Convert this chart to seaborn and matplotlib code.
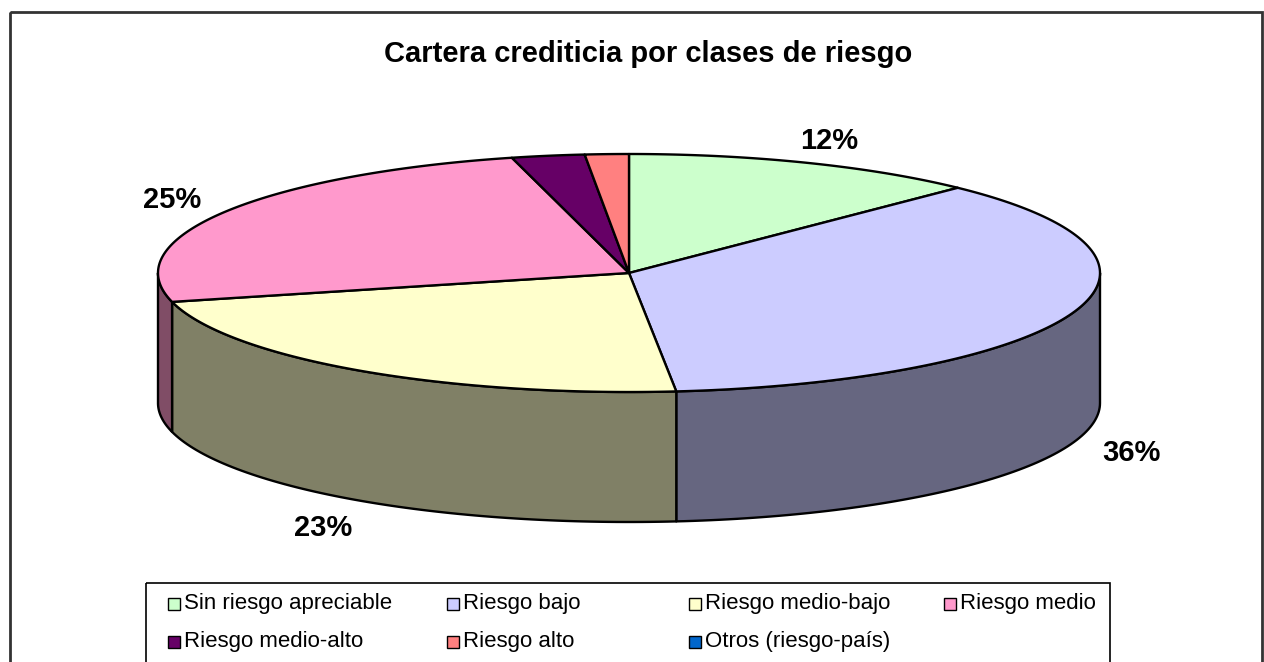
import numpy as np
import matplotlib
matplotlib.use("Agg")
import matplotlib.pyplot as plt
from matplotlib.patches import Polygon, Rectangle
import seaborn as sns

# ── data ────────────────────────────────────────────────────────────────────
categories = ["Sin riesgo apreciable", "Riesgo bajo", "Riesgo medio-bajo",
              "Riesgo medio", "Riesgo medio-alto", "Riesgo alto",
              "Otros (riesgo-país)"]
shares = [12.3, 36.1, 22.7, 24.9, 2.5, 1.5, 0.0]
colors = ["#CCFFCC", "#CCCCFF", "#FFFFCC", "#FF99CC", "#660066", "#FF8080", "#0066CC"]
title = "Cartera crediticia por clases de riesgo"

sns.set_style("white")
plt.rcParams["font.family"] = ["Liberation Sans", "DejaVu Sans"]
plt.rcParams["text.color"] = "black"

W, H = 1264, 662
fig = plt.figure(figsize=(W / 100, H / 100), dpi=100)
ax = fig.add_axes([0, 0, 1, 1])
ax.set_xlim(0, W)
ax.set_ylim(H, 0)
ax.axis("off")

# chart frame + legend frame
ax.add_patch(Rectangle((10, 12), 1252, 660, fill=False, ec="#333333", lw=2.0, zorder=1))
ax.add_patch(Rectangle((146, 583), 964, 90, fill=False, ec="black", lw=1.2, zorder=1))

# ── 3D pie geometry ─────────────────────────────────────────────────────────
cx, cy, rx, ry, depth = 629, 273, 471, 119, 130


def darker(c):
    r, g, b = matplotlib.colors.to_rgb(c)
    return (r * 0.5, g * 0.5, b * 0.5)


def pt(theta):
    return cx + rx * np.cos(theta), cy - ry * np.sin(theta)


total = sum(shares)
# start at 12 o'clock, go clockwise
bounds = [90.0]
for v in shares:
    bounds.append(bounds[-1] - 360.0 * v / total)

# side walls (only the front half, -180..0 deg)
for i, v in enumerate(shares):
    a, b = bounds[i + 1], bounds[i]
    for shift in (-720, -360, 0, 360):
        lo, hi = max(a + shift, -180), min(b + shift, 0)
        if hi - lo > 0.01:
            th = np.radians(np.linspace(lo, hi, 80))
            top = [pt(t) for t in th]
            bot = [(x, y + depth) for x, y in top[::-1]]
            ax.add_patch(Polygon(top + bot, closed=True, fc=darker(colors[i]),
                                 ec="black", lw=1.7, joinstyle="round", zorder=2))

# top face
for i, v in enumerate(shares):
    if v <= 0:
        continue
    th = np.radians(np.linspace(bounds[i], bounds[i + 1], 120))
    verts = [(cx, cy)] + [pt(t) for t in th]
    ax.add_patch(Polygon(verts, closed=True, fc=colors[i], ec="black",
                         lw=1.7, joinstyle="round", zorder=3))

# percentage labels (small slices have no label)
for i, v in enumerate(shares):
    if v < 5:
        continue
    mid = np.radians((bounds[i] + bounds[i + 1]) / 2)
    s = np.sin(mid)
    x = cx + 1.13 * rx * np.cos(mid)
    if s < 0:
        y = cy - 1.28 * ry * s + depth
    else:
        y = cy - 1.2 * ry * s
    ax.text(x, y, f"{round(v):.0f}%", ha="center", va="center",
            fontsize=21, fontweight="bold", zorder=5)

ax.text(648, 54, title, ha="center", va="center", fontsize=21,
        fontweight="bold", zorder=5)

# legend
col_x = [168, 447, 689, 944]
row_y = [604, 642]
for i, name in enumerate(categories):
    r, c = divmod(i, 4)
    x, y = col_x[c], row_y[r]
    ax.add_patch(Rectangle((x, y - 6), 12, 12, fc=colors[i], ec="black",
                           lw=1.0, zorder=5))
    ax.text(x + 16, y, name, ha="left", va="center", fontsize=16, zorder=5)

fig.savefig("out.png", dpi=100)
